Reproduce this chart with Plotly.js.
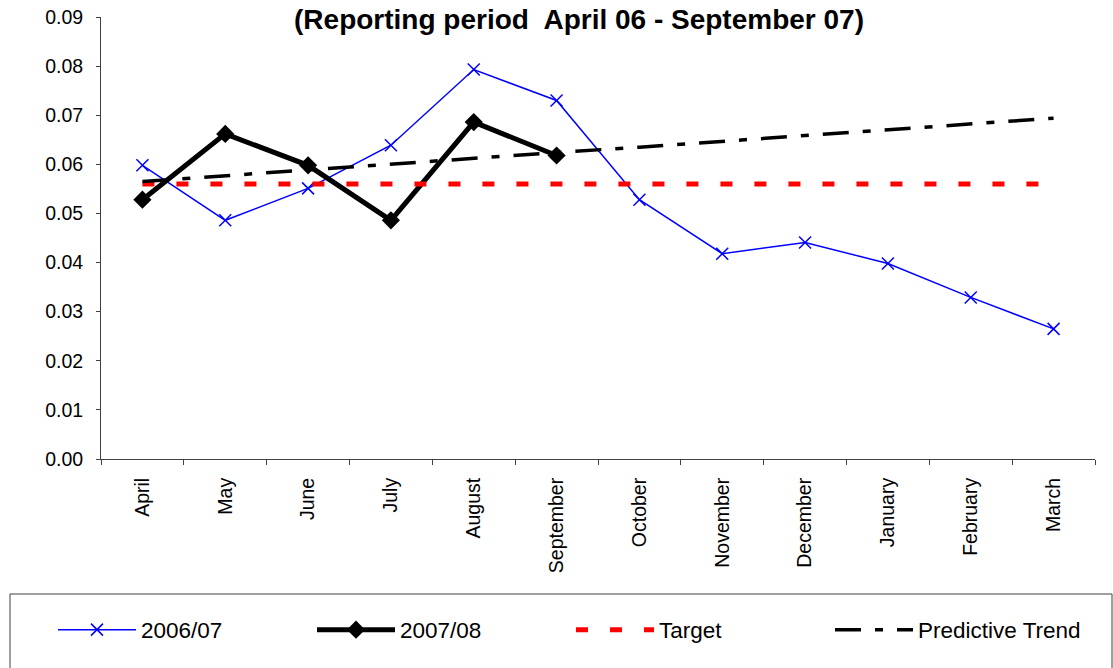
<!DOCTYPE html>
<html>
<head>
<meta charset="utf-8">
<script src="https://cdn.plot.ly/plotly-3.0.1.min.js"></script>
<style>html,body{margin:0;padding:0;background:#fff;}#chart{width:1113px;height:668px;}</style>
</head>
<body>
<div id="chart"></div>
<script>
var months = ["April","May","June","July","August","September","October","November","December","January","February","March"];
var series0607 = [0.0598,0.0486,0.0551,0.0639,0.0793,0.0730,0.0528,0.0418,0.0441,0.0398,0.0329,0.0265];
var months0708 = ["April","May","June","July","August","September"];
var series0708 = [0.0528,0.0662,0.0598,0.0486,0.0686,0.0618];
var target = [0.056,0.056,0.056,0.056,0.056,0.056,0.056,0.056,0.056,0.056,0.056,0.056];
var trend = [0.0565,0.0577,0.0588,0.0600,0.0612,0.0624,0.0635,0.0647,0.0659,0.0671,0.0682,0.0694];
var yTicks = [0,0.01,0.02,0.03,0.04,0.05,0.06,0.07,0.08,0.09];

var FONT = "Liberation Sans, Arial, sans-serif";

var traces = [
  {x: months, y: series0607, name: "2006/07", type: "scatter", mode: "lines+markers",
   line: {color: "#0000FF", width: 1.5},
   marker: {symbol: "x-thin", size: 12, color: "#0000FF", line: {color: "#0000FF", width: 1.5}}},
  {x: months0708, y: series0708, name: "2007/08", type: "scatter", mode: "lines+markers",
   line: {color: "#000000", width: 5},
   marker: {symbol: "diamond", size: 14, color: "#000000"}},
  {x: months, y: target, name: "Target", type: "scatter", mode: "lines",
   line: {color: "#FF0000", width: 5, dash: "12px,22px"}},
  {x: months, y: trend, name: "Predictive Trend", type: "scatter", mode: "lines",
   line: {color: "#000000", width: 3.5, dash: "26px,14px,8px,14px"}}
];

var layout = {
  width: 1113, height: 668,
  margin: {l: 101, r: 18, t: 17, b: 209, pad: 0},
  paper_bgcolor: "#FFFFFF", plot_bgcolor: "#FFFFFF",
  font: {family: FONT, size: 20, color: "#000000"},
  title: {text: "<b>(Reporting period  April 06 - September 07)</b>",
          font: {family: FONT, size: 28, color: "#000000"},
          xref: "container", yref: "container", x: 579/1113, y: 1 - 19/668,
          xanchor: "center", yanchor: "middle"},
  showlegend: true,
  legend: {orientation: "h", x: (53 - 101) / 994, y: (459 - 630) / 442, xanchor: "left", yanchor: "middle",
           xref: "paper", yref: "paper",
           font: {family: FONT, size: 22.5, color: "#000000"},
           itemwidth: 78, entrywidth: 166, entrywidthmode: "pixels",
           bgcolor: "rgba(0,0,0,0)", borderwidth: 0, traceorder: "normal",
           itemclick: false, itemdoubleclick: false},
  xaxis: {type: "category", categoryorder: "array", categoryarray: months,
          range: [-0.5, 11.5], showgrid: false, zeroline: false,
          showline: true, linecolor: "#404040", linewidth: 1,
          ticks: "outside", ticklen: 5, tickwidth: 1, tickcolor: "#404040",
          tickson: "boundaries", tickangle: -90, ticklabelstandoff: 10,
          tickfont: {family: FONT, size: 19.5, color: "#000000"}},
  yaxis: {range: [0, 0.09], tickvals: yTicks, tickformat: ".2f",
          showgrid: false, zeroline: false,
          showline: true, linecolor: "#404040", linewidth: 1,
          ticks: "outside", ticklen: 4, tickwidth: 1, tickcolor: "#404040",
          ticklabelstandoff: 9,
          tickfont: {family: FONT, size: 19.5, color: "#000000"}},
  shapes: [
    {type: "rect", xref: "paper", yref: "paper",
     x0: (10 - 101) / 994, x1: (1112 - 101) / 994,
     y0: (459 - 594) / 442, y1: (459 - 700) / 442,
     line: {color: "#404040", width: 1}, fillcolor: "rgba(0,0,0,0)", layer: "below"}
  ]
};

Plotly.newPlot("chart", traces, layout, {staticPlot: true, displayModeBar: false});
</script>
</body>
</html>
